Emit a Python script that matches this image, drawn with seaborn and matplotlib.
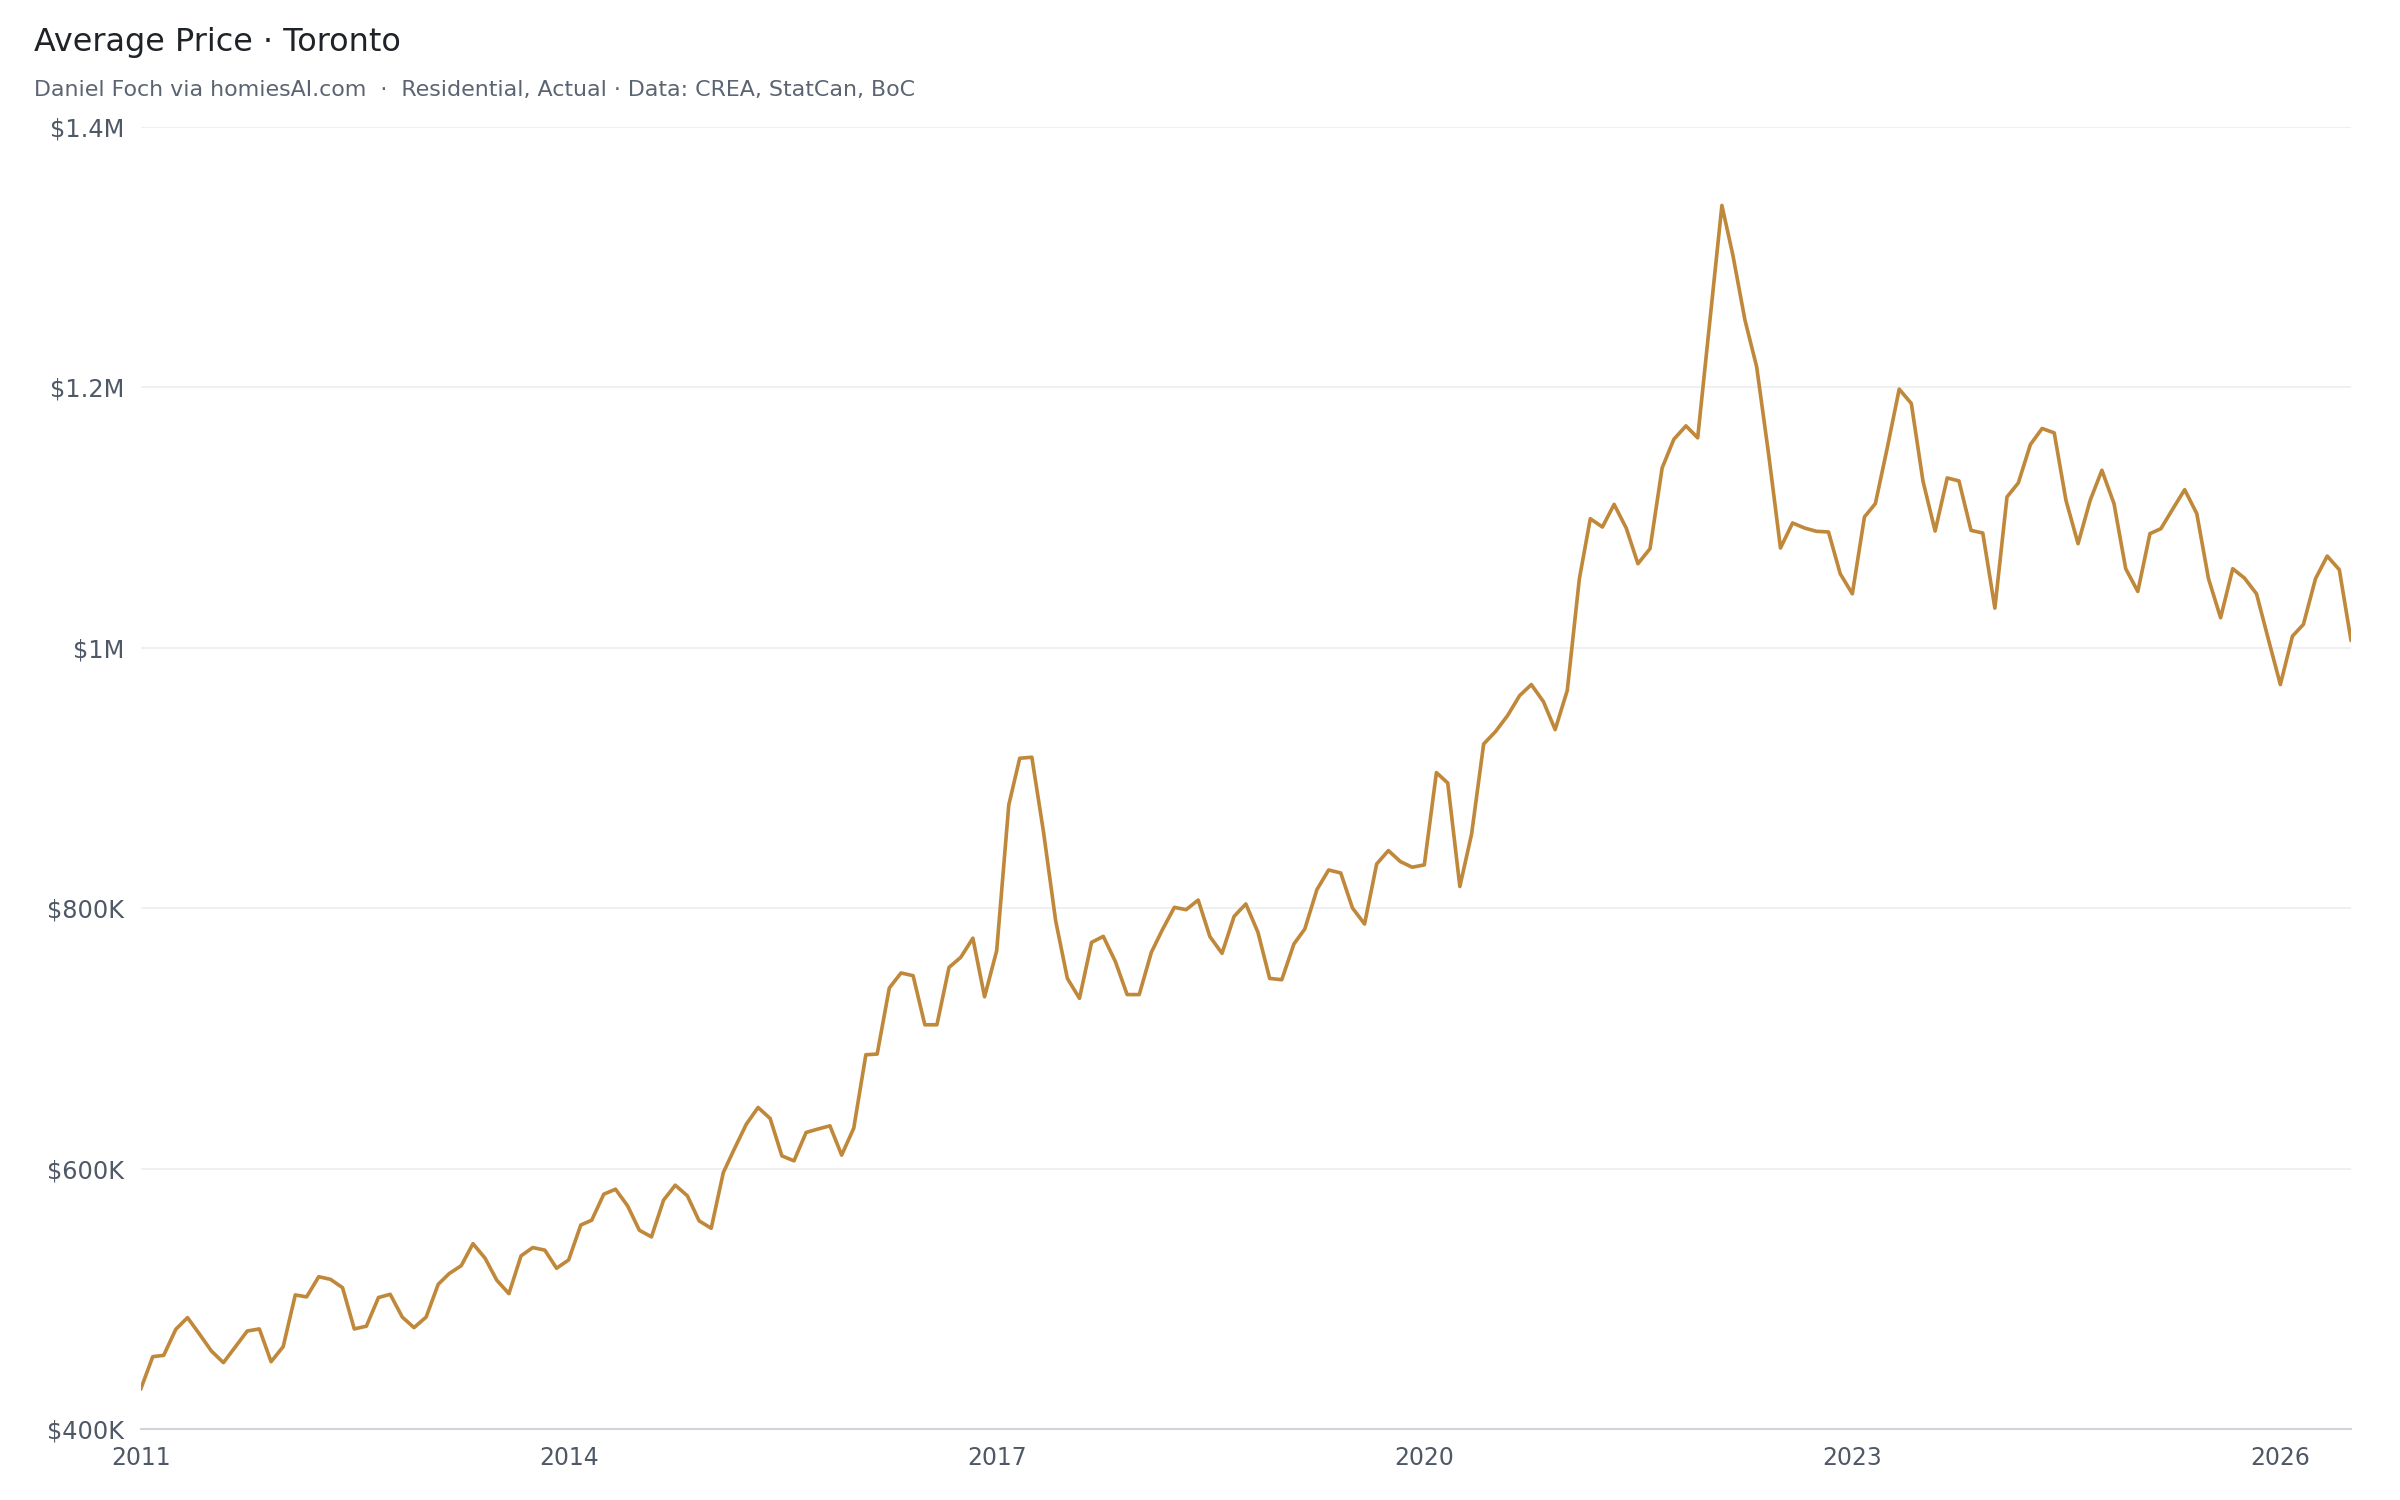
import pandas as pd
import numpy as np
import matplotlib
matplotlib.use("Agg")
import matplotlib.pyplot as plt
import matplotlib.ticker as mticker
import seaborn as sns

# monthly average price, thousands of CAD, Jan 2011 .. Jul 2026
p2011 = [430.5, 455.6, 456.6, 476.6, 485.6, 472.8, 460.0, 451.0, 463.3, 475.3, 476.9, 451.7]
p2012 = [463.3, 503.0, 501.5, 517.0, 515.0, 508.6, 476.9, 479.0, 501.0, 503.5, 486.0, 477.9]
p2013 = [486.0, 511.2, 519.4, 525.5, 542.4, 531.2, 514.3, 504.0, 533.0, 539.4, 537.4, 523.5]
p2014 = [529.9, 556.7, 560.4, 580.4, 584.2, 571.4, 552.7, 547.6, 575.8, 587.3, 579.1, 559.9]
p2015 = [554.2, 597.0, 615.0, 634.2, 647.0, 638.5, 609.8, 606.0, 627.8, 630.4, 632.9, 610.4]
p2016 = [631.1, 687.5, 688.0, 738.7, 750.3, 748.2, 710.5, 710.5, 754.6, 762.3, 777.0, 732.0]
p2017 = [767.4, 879.4, 915.2, 916.0, 858.4, 790.4, 746.1, 730.8, 773.8, 778.4, 759.0, 733.7]
p2018 = [733.7, 766.1, 783.3, 800.7, 798.9, 806.3, 778.2, 765.4, 793.8, 803.3, 781.5, 746.1]
p2019 = [745.1, 772.5, 784.1, 814.3, 829.4, 827.1, 800.2, 787.9, 834.0, 844.3, 835.8, 831.5]
p2020 = [833.3, 904.2, 896.2, 816.7, 856.9, 926.2, 935.6, 947.9, 963.3, 971.8, 958.7, 937.2]
p2021 = [967.2, 1053.0, 1099.2, 1092.8, 1110.2, 1092.0, 1064.6, 1076.2, 1138.2, 1160.2, 1170.5, 1161.3]
p2022 = [1250.5, 1339.8, 1301.8, 1251.8, 1215.9, 1147.9, 1076.7, 1095.9, 1092.0, 1089.5, 1089.0, 1056.9]
p2023 = [1041.5, 1100.5, 1110.8, 1154.4, 1198.7, 1187.7, 1127.9, 1089.7, 1130.5, 1128.2, 1090.2, 1088.2]
p2024 = [1030.5, 1115.9, 1126.7, 1156.2, 1168.5, 1165.1, 1113.3, 1080.0, 1113.3, 1136.4, 1110.8, 1060.8]
p2025 = [1043.3, 1087.7, 1091.5, 1106.9, 1121.5, 1103.1, 1053.1, 1023.1, 1060.8, 1053.6, 1041.5, 1006.9]
p2026 = [971.8, 1009.0, 1018.0, 1053.1, 1070.5, 1060.0, 1005.6]

tick_years = [2011, 2014, 2017, 2020, 2023, 2026]
y_ticks = [400000, 600000, 800000, 1000000, 1200000, 1400000]

title = "Average Price · Toronto"
subtitle = "Daniel Foch via homiesAI.com  ·  Residential, Actual · Data: CREA, StatCan, BoC"

prices = (p2011 + p2012 + p2013 + p2014 + p2015 + p2016 + p2017 + p2018
          + p2019 + p2020 + p2021 + p2022 + p2023 + p2024 + p2025 + p2026)
dates = pd.date_range("2011-01-01", periods=len(prices), freq="MS")
df = pd.DataFrame({"date": dates, "price": np.array(prices) * 1000})

sns.set_style("white")
plt.rcParams["font.family"] = ["DejaVu Sans"]

line_col = "#c0883a"
tick_col = "#4f5866"
axis_col = "#d1d5db"
grid_col = "#eef0f3"

fig = plt.figure(figsize=(16, 10), dpi=150)
ax = fig.add_axes([0.0586, 0.0473, 0.9210, 0.8680])

sns.lineplot(data=df, x="date", y="price", ax=ax, color=line_col, linewidth=1.75)

ax.set_xlim(df["date"].iloc[0], df["date"].iloc[-1])
ax.set_ylim(y_ticks[0], y_ticks[-1])

def money(v, pos=None):
    if v >= 1000000:
        s = f"{v/1000000:.1f}".rstrip("0").rstrip(".")
        return f"${s}M"
    return f"${v/1000:.0f}K"

ax.set_yticks(y_ticks)
ax.yaxis.set_major_formatter(mticker.FuncFormatter(money))
ax.set_xticks(pd.to_datetime([f"{y}-01-01" for y in tick_years]))
ax.set_xticklabels([str(y) for y in tick_years])

ax.grid(axis="y", color=grid_col, linewidth=0.9)
ax.grid(axis="x", visible=False)
ax.set_axisbelow(True)
for s in ["top", "right", "left"]:
    ax.spines[s].set_visible(False)
ax.spines["bottom"].set_color(axis_col)
ax.spines["bottom"].set_linewidth(1.0)
ax.tick_params(axis="y", length=0, pad=8, labelsize=11.5, labelcolor=tick_col)
ax.tick_params(axis="x", length=4, width=1, color=axis_col, pad=4, labelsize=11.3, labelcolor=tick_col)
ax.set_xlabel("")
ax.set_ylabel("")

fig.text(34 / 2400, 1 - 43 / 1500, title, fontsize=15.3, color="#1f2328", va="center", ha="left")
fig.text(34 / 2400, 1 - 90 / 1500, subtitle, fontsize=10.6, color="#5b6472", va="center", ha="left")

fig.savefig("out.png", dpi=150, facecolor="white")
